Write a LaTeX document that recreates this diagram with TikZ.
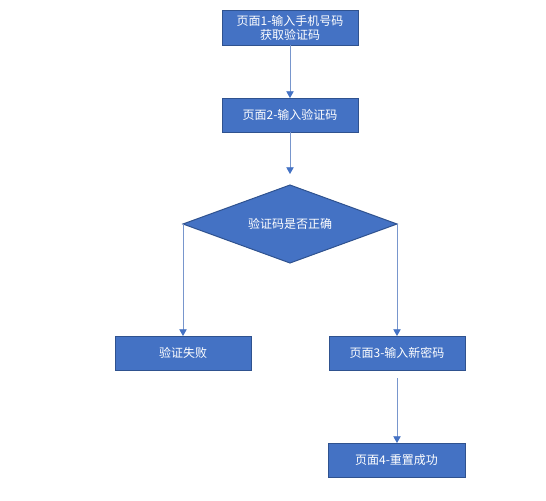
\documentclass[tikz,border=0pt]{standalone}
\usepackage{fontspec}
\setmainfont{Noto Sans CJK SC}
\usetikzlibrary{shapes.geometric,arrows.meta}

\definecolor{boxfill}{RGB}{68,114,196}
\definecolor{boxline}{RGB}{47,82,143}
\definecolor{flowline}{RGB}{120,150,205}

\tikzset{every picture/.style={line width=0.75pt}}
\tikzset{
  pagebox/.style={draw=boxline, fill=boxfill, text=white, inner sep=0.75pt, outer sep=0pt,
    minimum width=102pt, minimum height=25.5pt, align=center, font=\fontsize{9}{10.5}\selectfont},
  checkbox/.style={diamond, aspect=2.74, draw=boxline, fill=boxfill, text=white, inner sep=0pt, outer sep=0pt,
    minimum width=160.5pt, minimum height=58.5pt, font=\fontsize{9}{10.5}\selectfont},
  flow/.style={draw=flowline, line width=0.6pt, -{Triangle[width=5.5pt,length=5pt,color=boxfill]}}
}

\begin{document}
\begin{tikzpicture}[x=0.75pt,y=0.75pt,yscale=-1,xscale=1]
\useasboundingbox (0,0) rectangle (546,500);

% Text Node
\node [pagebox, minimum height=26.25pt] (page1) at (290,27.5) {页面1-输入手机号码\\获取验证码};
% Text Node
\node [pagebox] (page2) at (290,115) {页面2-输入验证码};
% Shape: Diamond
\node [checkbox] (check) at (290,224) {验证码是否正确};
% Text Node
\node [pagebox] (fail) at (183,353) {验证失败};
% Text Node
\node [pagebox] (page3) at (397,353) {页面3-输入新密码};
% Text Node
\node [pagebox, minimum width=102.75pt] (page4) at (396.5,460) {页面4-重置成功};

% Straight Lines
\draw [flow] (page1.south) -- (page2.north);
\draw [flow, shorten >=8.25pt] (page2.south) -- (check.north);
\draw [flow] (check.west) -- (fail.north);
\draw [flow] (check.east) -- (page3.north);
\draw [flow, shorten <=6pt] (page3.south) -- (page3.south |- page4.north);

\end{tikzpicture}
\end{document}
